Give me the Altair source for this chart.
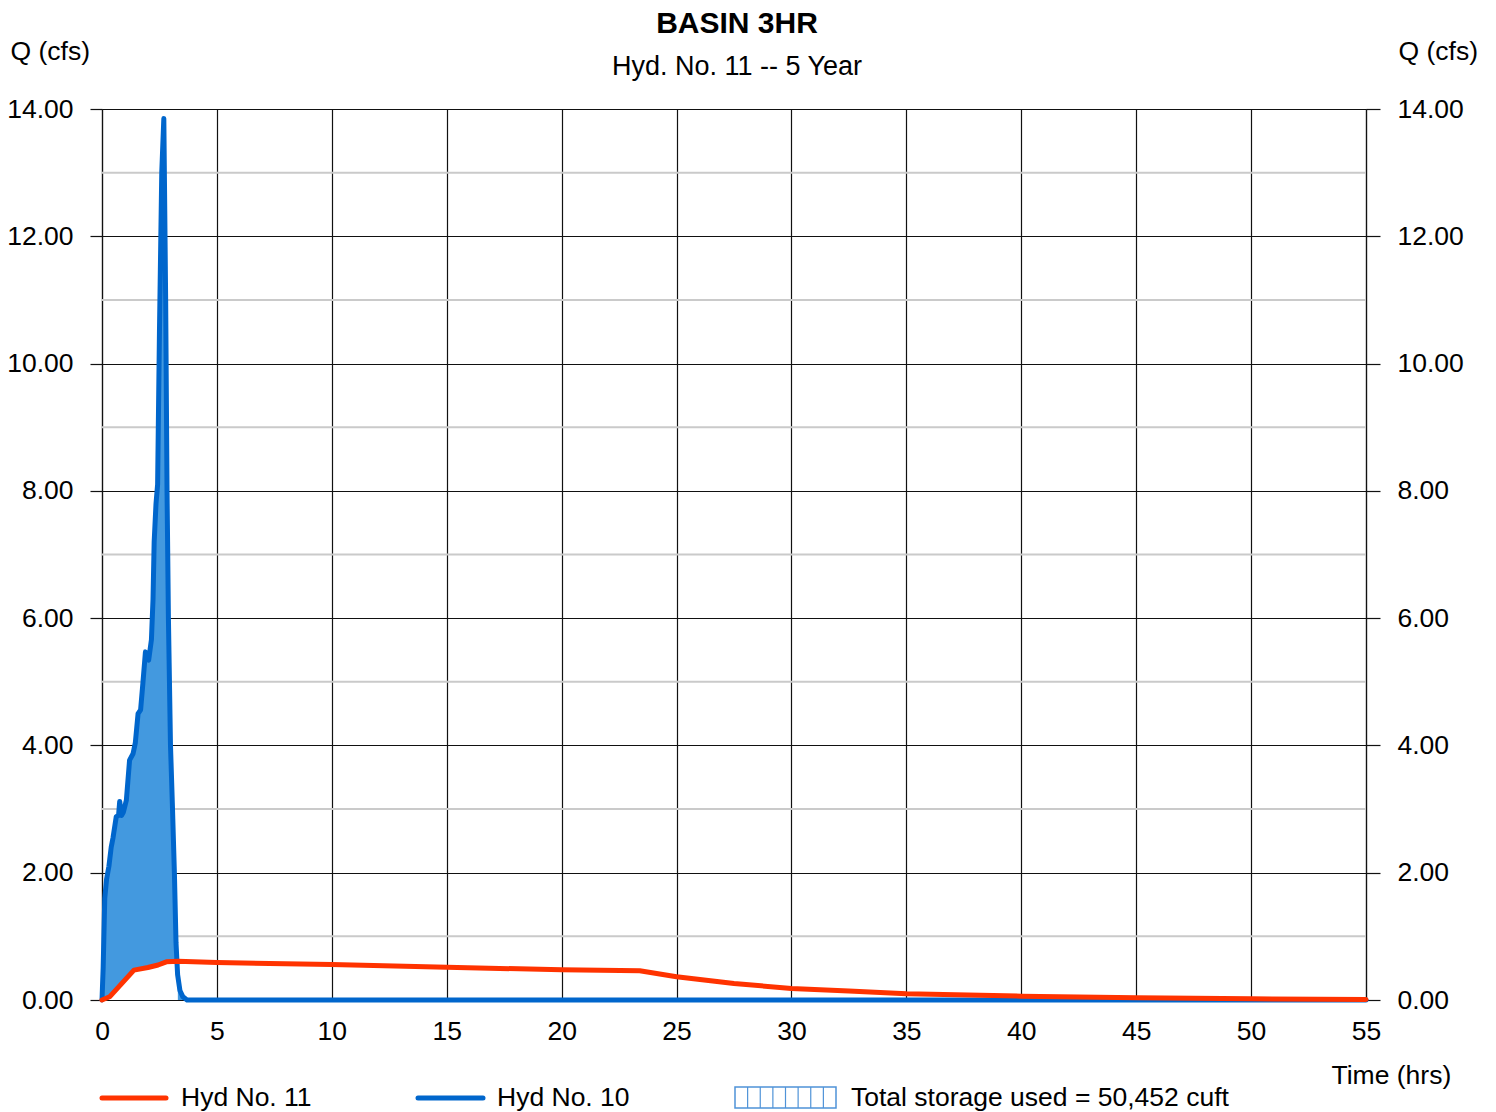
import altair as alt
import pandas as pd

# ---------------- data ----------------
# Hyd No. 10 (inflow)
blue_t = [0, 0.05, 0.12, 0.2, 0.3, 0.4, 0.48, 0.62, 0.72, 0.77, 0.85, 0.93, 1.06,
          1.2, 1.35, 1.45, 1.57, 1.68, 1.78, 1.89, 2.03, 2.15, 2.22, 2.27, 2.35,
          2.42, 2.5, 2.6, 2.69, 2.77, 2.83, 2.89, 2.98, 3.06, 3.15, 3.22, 3.29,
          3.39, 3.52, 3.7, 55]
blue_q = [0, 0.5, 1.6, 1.9, 2.1, 2.4, 2.55, 2.88, 2.9, 3.12, 2.9, 2.95, 3.14,
          3.77, 3.87, 4.04, 4.5, 4.56, 4.98, 5.47, 5.34, 5.66, 6.3, 7.2, 7.8,
          8.1, 10.5, 13.0, 13.85, 11.0, 8.0, 6.0, 4.0, 3.1, 2.0, 0.9, 0.4,
          0.15, 0.05, 0, 0]

# Hyd No. 11 (outflow)
orange_t = [0, 0.33, 1.39, 2.0, 2.44, 2.8, 3.3, 5, 10, 15, 20, 23.4, 25, 27.5,
            30, 32.5, 35, 40, 45, 50, 55]
orange_q = [0, 0.05, 0.47, 0.51, 0.55, 0.60, 0.61, 0.59, 0.556, 0.515, 0.475,
            0.46, 0.366, 0.26, 0.18, 0.14, 0.1, 0.06, 0.035, 0.018, 0.008]

minor_q = [1, 3, 5, 7, 9, 11, 13]
x_ticks = [0, 5, 10, 15, 20, 25, 30, 35, 40, 45, 50, 55]
y_ticks = [0, 2, 4, 6, 8, 10, 12, 14]

legend_labels = ["Hyd No. 11", "Hyd No. 10", "Total storage used = 50,452 cuft"]

title_text = "BASIN 3HR"
subtitle_text = "Hyd. No. 11 -- 5 Year"

# ---------------- style ----------------
FONT = "Liberation Sans"
FS = 26.5
GRID = "#111111"
BLUE = "#0066cc"
FILL = "#4399df"
ORANGE = "#ff3300"
MINOR = "#cacaca"
W, H = 1264, 891

blue = pd.DataFrame({"t": blue_t, "q": blue_q})
orange = pd.DataFrame({"t": orange_t, "q": orange_q})
minor = pd.DataFrame({"v": minor_q})

xscale = alt.Scale(domain=[0, 55], nice=False, zero=False)
yscale = alt.Scale(domain=[0, 14], nice=False)

xaxis = alt.Axis(values=x_ticks, format="d", grid=True, gridColor=GRID, gridWidth=1.2,
                 ticks=False, labelPadding=18, labelFontSize=FS, labelFont=FONT,
                 labelColor="black", labelFlush=False, labelOverlap=False,
                 domainColor=GRID, domainWidth=1.2,
                 title="Time (hrs)", titleFont=FONT, titleFontSize=FS,
                 titleFontWeight="normal", titleColor="black", titleAngle=0,
                 titleAlign="left", titleBaseline="middle", titleX=1229, titleY=75)

left_axis = alt.Axis(values=y_ticks, format=".2f", orient="left", grid=True,
                     gridColor=GRID, gridWidth=1.2, tickSize=12, tickColor=GRID,
                     tickWidth=1.2, labelPadding=17, labelFontSize=FS, labelFont=FONT,
                     labelColor="black", labelFlush=False, labelOverlap=False,
                     domainColor=GRID, domainWidth=1.2,
                     title="Q (cfs)", titleFont=FONT, titleFontSize=FS,
                     titleFontWeight="normal", titleColor="black", titleAngle=0,
                     titleAlign="left", titleBaseline="middle", titleX=-92, titleY=-58)

right_axis = alt.Axis(values=y_ticks, format=".2f", orient="right", grid=False,
                      tickSize=14, tickColor=GRID, tickWidth=1.2, labelPadding=17,
                      labelFontSize=FS, labelFont=FONT, labelColor="black",
                      labelFlush=False, labelOverlap=False,
                      domainColor=GRID, domainWidth=1.2,
                      title="Q (cfs)", titleFont=FONT, titleFontSize=FS,
                      titleFontWeight="normal", titleColor="black", titleAngle=0,
                      titleAlign="left", titleBaseline="middle", titleX=32, titleY=-58)

X = alt.X("t:Q", scale=xscale, axis=xaxis)

minor_rules = alt.Chart(minor).mark_rule(color=MINOR, strokeWidth=2).encode(
    y=alt.Y("v:Q", scale=yscale, axis=right_axis)
)

blue_area = alt.Chart(blue).mark_area(color=FILL, opacity=1).encode(
    x=X, y=alt.Y("q:Q", scale=yscale, axis=left_axis)
)

white_area = alt.Chart(orange).transform_filter("datum.t <= 4").mark_area(
    color="white", opacity=1
).encode(x=X, y=alt.Y("q:Q", scale=yscale, axis=None))

blue_line = alt.Chart(blue).mark_line(
    color=BLUE, strokeWidth=5, strokeJoin="round", strokeCap="round"
).encode(x=X, y=alt.Y("q:Q", scale=yscale, axis=None))

orange_line = alt.Chart(orange).mark_line(
    color=ORANGE, strokeWidth=5, strokeJoin="round", strokeCap="round"
).encode(x=X, y=alt.Y("q:Q", scale=yscale, axis=None))

# ---------------- title & subtitle (centred above the plot) ----------------
title_mark = alt.Chart(pd.DataFrame({"label": [title_text]})).mark_text(
    align="center", baseline="alphabetic", font=FONT, fontSize=30,
    fontWeight="bold", color="black"
).encode(x=alt.value(635), y=alt.value(-76), text="label:N")

subtitle_mark = alt.Chart(pd.DataFrame({"label": [subtitle_text]})).mark_text(
    align="center", baseline="alphabetic", font=FONT, fontSize=27, color="black"
).encode(x=alt.value(635), y=alt.value(-34), text="label:N")

# ---------------- custom legend below the plot ----------------
LY = 989
legend_layers = []
legend_layers.append(
    alt.Chart(pd.DataFrame({"k": [0]})).mark_rule(color=ORANGE, strokeWidth=5, strokeCap="round")
    .encode(x=alt.value(0), x2=alt.value(64), y=alt.value(LY))
)
legend_layers.append(
    alt.Chart(pd.DataFrame({"k": [0]})).mark_rule(color=BLUE, strokeWidth=5, strokeCap="round")
    .encode(x=alt.value(316), x2=alt.value(381), y=alt.value(LY))
)
legend_layers.append(
    alt.Chart(pd.DataFrame({"k": [0]})).mark_rect(fill="white", stroke="#4f93d8", strokeWidth=1.5)
    .encode(x=alt.value(633), x2=alt.value(734), y=alt.value(978), y2=alt.value(999))
)
for i in range(1, 8):
    xp = 633 + i * (101 / 8)
    legend_layers.append(
        alt.Chart(pd.DataFrame({"k": [0]})).mark_rule(color="#4f93d8", strokeWidth=1.2)
        .encode(x=alt.value(xp), y=alt.value(978), y2=alt.value(999))
    )
for lab, lx in zip(legend_labels, [79, 395, 749]):
    legend_layers.append(
        alt.Chart(pd.DataFrame({"label": [lab]})).mark_text(
            align="left", baseline="middle", font=FONT, fontSize=FS, color="black"
        ).encode(x=alt.value(lx), y=alt.value(LY), text="label:N")
    )

chart = alt.layer(
    minor_rules, blue_area, white_area, blue_line, orange_line,
    title_mark, subtitle_mark, *legend_layers
).resolve_axis(y="independent").properties(
    width=W, height=H,
    autosize=alt.AutoSizeParams(type="none"),
    padding={"left": 102, "top": 109, "right": 130, "bottom": 112},
    background="white",
).configure_view(stroke=None)

chart.save("out.html", embed_options={"renderer": "svg", "actions": False})
